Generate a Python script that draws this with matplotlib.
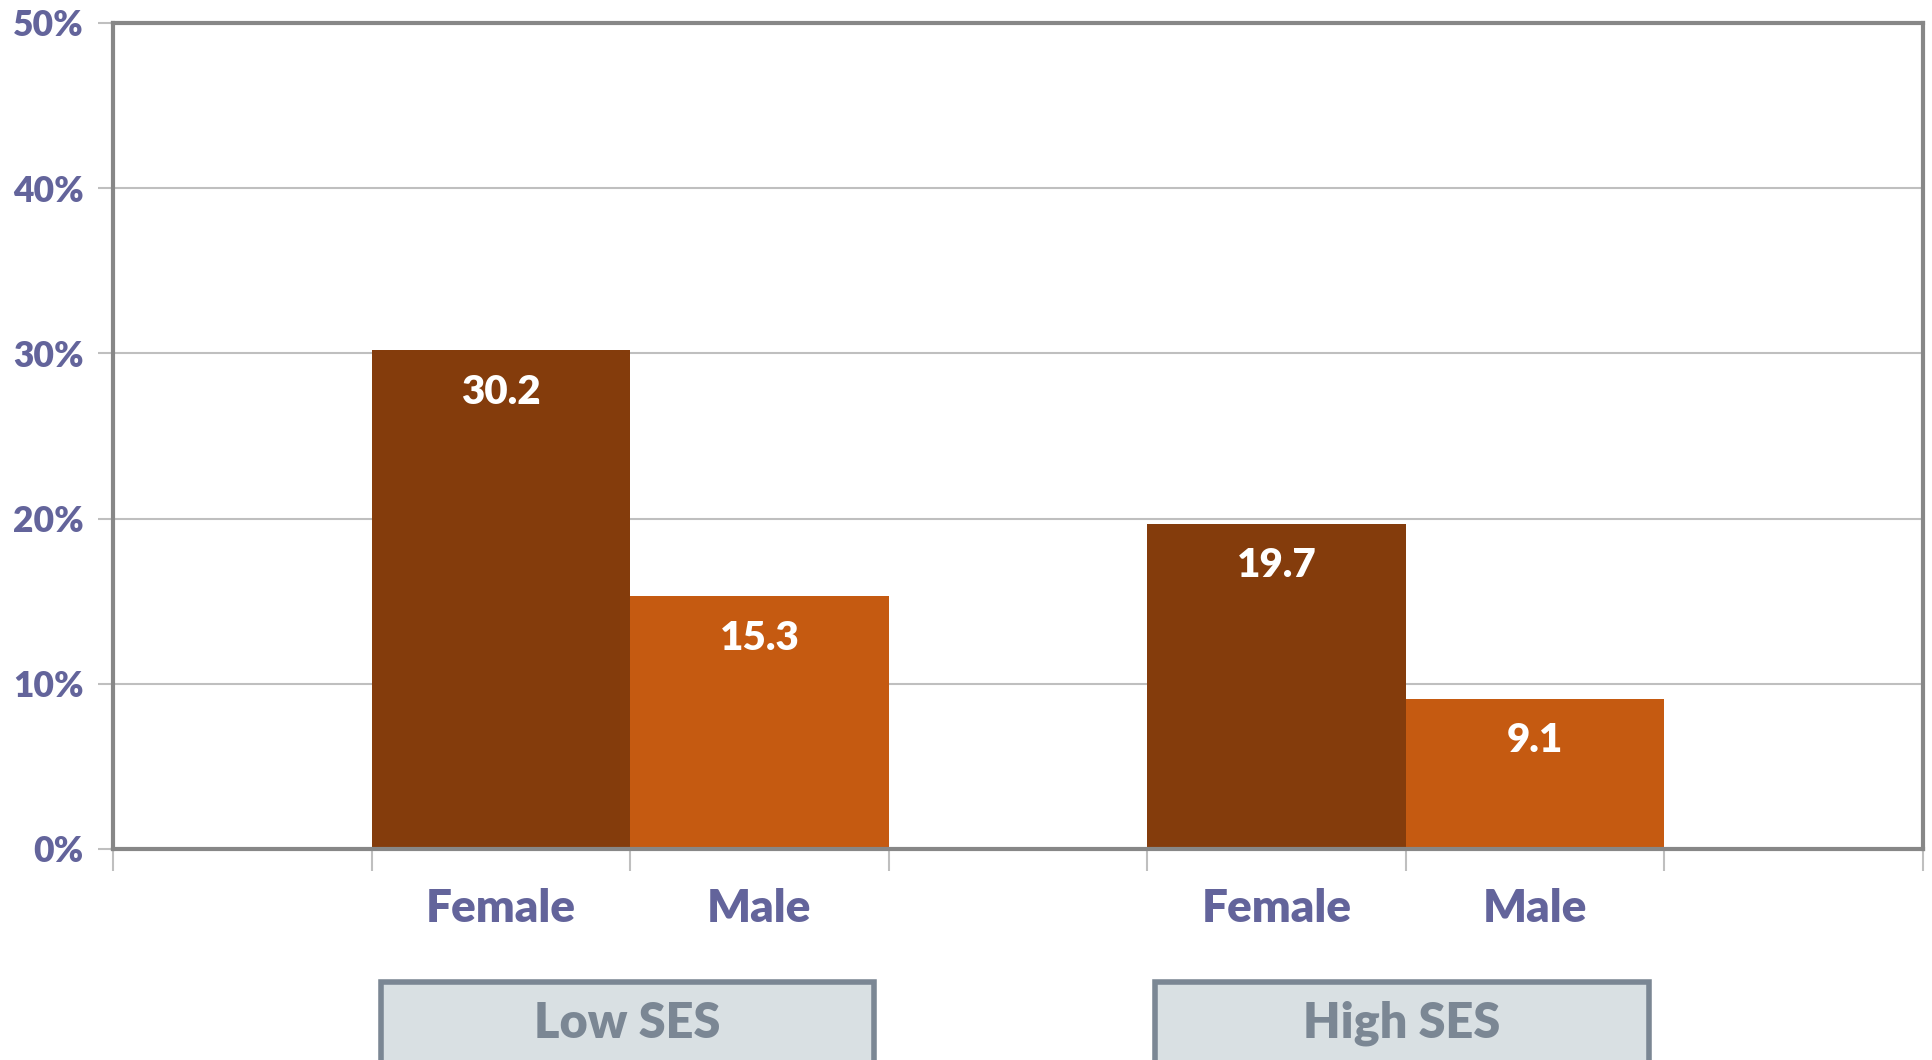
import matplotlib
matplotlib.use("Agg")
import matplotlib.pyplot as plt
from matplotlib.patches import Rectangle
from matplotlib.transforms import blended_transform_factory

# slots along x: blank, Female, Male, blank, Female, Male, blank
SLOT_LABELS = ["", "Female", "Male", "", "Female", "Male", ""]
GROUPS = ["Low SES", "High SES"]
FEMALE = [30.2, 19.7]
MALE = [15.3, 9.1]
Y_TICKS = [0, 10, 20, 30, 40, 50]

C_FEMALE, C_MALE = "#843C0C", "#C55A11"
INK = "#63649B"
BOX_FILL, BOX_EDGE = "#D9E0E3", "#7B8794"
SPINE, GRID = "#878787", "#BFBFBF"
FONT = "Lato"
W = "heavy"

fig = plt.figure(figsize=(19.33, 10.6), dpi=100, facecolor="white")
ax = fig.add_axes([113 / 1933, 211 / 1060, 1810 / 1933, 826 / 1060])

female_x = [1, 4]
male_x = [2, 5]
ax.bar(female_x, FEMALE, width=1.0, color=C_FEMALE, zorder=3)
ax.bar(male_x, MALE, width=1.0, color=C_MALE, zorder=3)

for xs, vals in ((female_x, FEMALE), (male_x, MALE)):
    for x, v in zip(xs, vals):
        ax.annotate(f"{v:.1f}", (x, v), xytext=(0, -42), textcoords="offset pixels",
                    ha="center", va="center", color="white", fontsize=29,
                    fontweight=W, family=FONT, zorder=4)

ax.set_xlim(-0.5, 6.5)
ax.set_ylim(0, 50)
ax.set_yticks(Y_TICKS, [f"{t}%" for t in Y_TICKS])
ax.set_xticks([i + 0.5 for i in range(-1, 7)])
ax.set_xticklabels([])
ax.tick_params(axis="x", direction="out", length=16, width=1.5, color=GRID)
ax.tick_params(axis="y", direction="out", length=11, width=1.5, color=GRID,
               labelsize=25.5, labelcolor=INK, pad=10)
for lab in ax.get_yticklabels():
    lab.set_fontweight(W)
    lab.set_family(FONT)

ax.yaxis.grid(True, color=GRID, linewidth=1.5, zorder=0)
ax.set_axisbelow(True)
for sp in ax.spines.values():
    sp.set_color(SPINE)
    sp.set_linewidth(3)
    sp.set_zorder(5)

trans = blended_transform_factory(ax.transData, ax.transAxes)
for i, lab in enumerate(SLOT_LABELS):
    if lab:
        ax.text(i, -0.0726, lab, transform=trans, ha="center", va="center",
                fontsize=33, fontweight=W, color=INK, family=FONT)

# group boxes run off the bottom edge of the figure, as in the source
for center, name in zip([1.49, 4.485], GROUPS):
    ax.add_patch(Rectangle((center - 0.955, -0.28), 1.91, 0.119, transform=trans,
                           facecolor=BOX_FILL, edgecolor=BOX_EDGE, linewidth=4,
                           clip_on=False))
    ax.text(center, -0.2107, name, transform=trans, ha="center", va="center",
            fontsize=35, fontweight=W, color=BOX_EDGE, family=FONT)

fig.savefig("out.png", dpi=100, facecolor="white")
